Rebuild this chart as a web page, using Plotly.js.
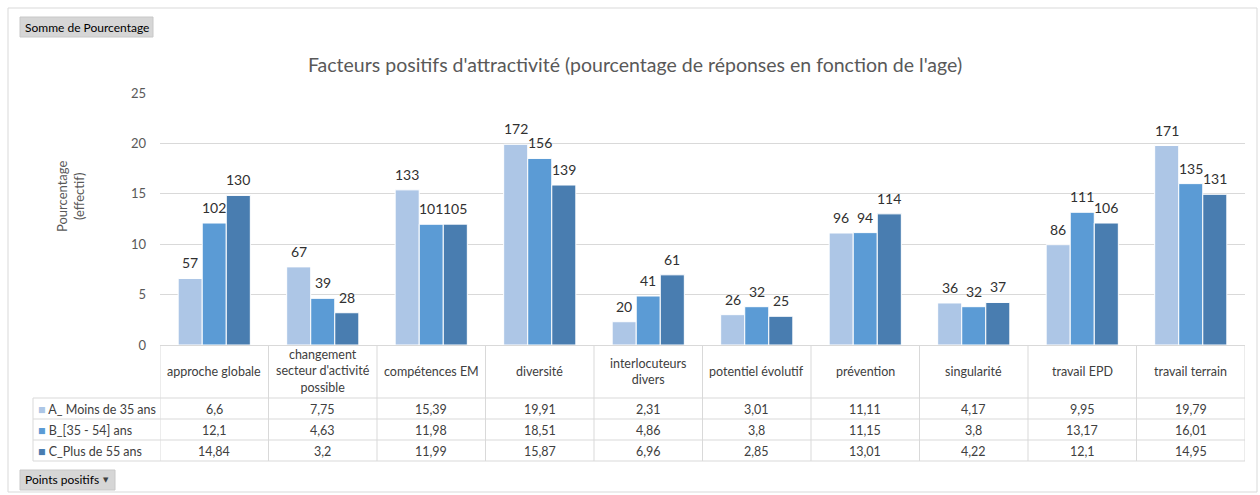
<!DOCTYPE html>
<html><head><meta charset="utf-8">
<script src="https://cdn.plot.ly/plotly-3.0.1.min.js"></script>
<style>body{margin:0;background:#fff}#c{width:1260px;height:495px}</style>
</head><body><div id="c"></div>
<script>
const categories = ["approche globale","changement<br>secteur d'activité<br>possible","compétences EM","diversité","interlocuteurs<br>divers","potentiel évolutif","prévention","singularité","travail EPD","travail terrain"];
const seriesNames = ["A_ Moins de 35 ans","B_[35 - 54] ans","C_Plus de 55 ans"];
const pctA = [6.6,7.75,15.39,19.91,2.31,3.01,11.11,4.17,9.95,19.79];
const pctB = [12.1,4.63,11.98,18.51,4.86,3.8,11.15,3.8,13.17,16.01];
const pctC = [14.84,3.2,11.99,15.87,6.96,2.85,13.01,4.22,12.1,14.95];
const countA = [57,67,133,172,20,26,96,36,86,171];
const countB = [102,39,101,156,41,32,94,32,111,135];
const countC = [130,28,105,139,61,25,114,37,106,131];
const yTicks = [0,5,10,15,20,25];
const colors = ["#adc6e6","#5b9bd5","#497db0"];

const W=1260,H=495,L=160,R=15,T=93,B=150;
const pw=W-L-R, ph=H-T-B;
const px = x => (x-L)/pw;
const py = y => (H-B-y)/ph;
const FONT = "Lato, 'Open Sans', sans-serif";
const txt = "#404040";
const grid = "#d9d9d9";
const BARGAP = 0.335;

const pcts=[pctA,pctB,pctC], counts=[countA,countB,countC];
const xIdx = categories.map((c,i)=>i);
const traces = pcts.map((p,s)=>({
  type:'bar', x:xIdx, y:p, name:seriesNames[s],
  marker:{color:colors[s], line:{color:'#ffffff', width:1}},
  hoverinfo:'skip'
}));

const fmt = v => String(v).replace('.',',');
const shapes=[], ann=[];
// bar value labels (counts)
const bw=(1-BARGAP)/3;
pcts.forEach((p,s)=>p.forEach((v,i)=>ann.push({xref:'x',yref:'y',x:i+(s-1)*bw,y:v,xanchor:'center',yanchor:'bottom',yshift:5,
  text:String(counts[s][i]),showarrow:false,font:{family:FONT,size:14,color:'#303030'}})));
// outer border
shapes.push({type:'rect',xref:'paper',yref:'paper',x0:px(8),x1:px(1257),y0:py(492),y1:py(8),line:{color:'#d9d9d9',width:1},layer:'below'});
// buttons
shapes.push({type:'rect',xref:'paper',yref:'paper',x0:px(20),x1:px(153),y0:py(37),y1:py(17),fillcolor:'#d6d6d6',line:{color:'#c8c8c8',width:1}});
shapes.push({type:'rect',xref:'paper',yref:'paper',x0:px(20),x1:px(115),y0:py(490),y1:py(470),fillcolor:'#d6d6d6',line:{color:'#c8c8c8',width:1}});
ann.push({xref:'paper',yref:'paper',x:px(23),y:py(27),xanchor:'left',yanchor:'middle',text:'Somme de Pourcentage',showarrow:false,font:{family:FONT,size:12,color:'#000'}});
ann.push({xref:'paper',yref:'paper',x:px(23),y:py(480),xanchor:'left',yanchor:'middle',text:'Points positifs',showarrow:false,font:{family:FONT,size:12,color:'#000'}});
ann.push({xref:'paper',yref:'paper',x:px(106),y:py(480),xanchor:'center',yanchor:'middle',text:'▼',showarrow:false,font:{family:'DejaVu Sans',size:7,color:'#404040'}});
// table lines
const rowTop=[398,419,440,461];
rowTop.forEach(y=>shapes.push({type:'line',xref:'paper',yref:'paper',x0:px(33),x1:1,y0:py(y),y1:py(y),line:{color:grid,width:1}}));
shapes.push({type:'line',xref:'paper',yref:'paper',x0:px(33),x1:px(33),y0:py(398),y1:py(461),line:{color:grid,width:1}});
for(let i=0;i<=categories.length;i++){
  shapes.push({type:'line',xref:'x',yref:'paper',x0:i-0.5,x1:i-0.5,y0:py(461),y1:0,line:{color:grid,width:1}});
}
// header labels
categories.forEach((c,i)=>ann.push({xref:'x',yref:'paper',x:i,y:py(371),xanchor:'center',yanchor:'middle',text:c,showarrow:false,font:{family:FONT,size:12.5,color:txt}}));
// rows
const rowC=[409,430,451];
pcts.forEach((p,s)=>{
  ann.push({xref:'paper',yref:'paper',x:px(36),y:py(rowC[s]),xanchor:'left',yanchor:'middle',showarrow:false,
    text:'<span style="color:'+colors[s]+'">■</span> '+seriesNames[s],font:{family:FONT,size:12.5,color:txt}});
  p.forEach((v,i)=>ann.push({xref:'x',yref:'paper',x:i,y:py(rowC[s]),xanchor:'center',yanchor:'middle',showarrow:false,text:fmt(v),font:{family:FONT,size:12.5,color:txt}}));
});
// y title
ann.push({xref:'paper',yref:'paper',x:px(70),y:py(197),xanchor:'center',yanchor:'middle',textangle:-90,showarrow:false,
  text:'Pourcentage<br>(effectif)',font:{family:FONT,size:13,color:'#595959'}});

const layout={
  width:W,height:H,margin:{l:L,r:R,t:T,b:B},
  paper_bgcolor:'#fff',plot_bgcolor:'#fff',
  title:{text:"Facteurs positifs d'attractivité (pourcentage de réponses en fonction de l'age)",x:0.504,xref:'container',y:1-65/H,yanchor:'middle',font:{family:FONT,size:19.5,color:'#595959'}},
  barmode:'group',bargap:BARGAP,bargroupgap:0,showlegend:false,
  xaxis:{type:'linear',range:[-0.5,9.5],showticklabels:false,showgrid:false,zeroline:false,showline:true,linecolor:grid,ticks:'',fixedrange:true},
  yaxis:{range:[0,25],tickvals:yTicks,ticktext:yTicks.map(String),showgrid:true,gridcolor:grid,zeroline:false,showline:false,
    tickfont:{family:FONT,size:13,color:'#595959'},ticklabelstandoff:13,fixedrange:true},
  shapes:shapes,annotations:ann
};
Plotly.newPlot('c',traces,layout,{displayModeBar:false,staticPlot:true});
</script></body></html>
